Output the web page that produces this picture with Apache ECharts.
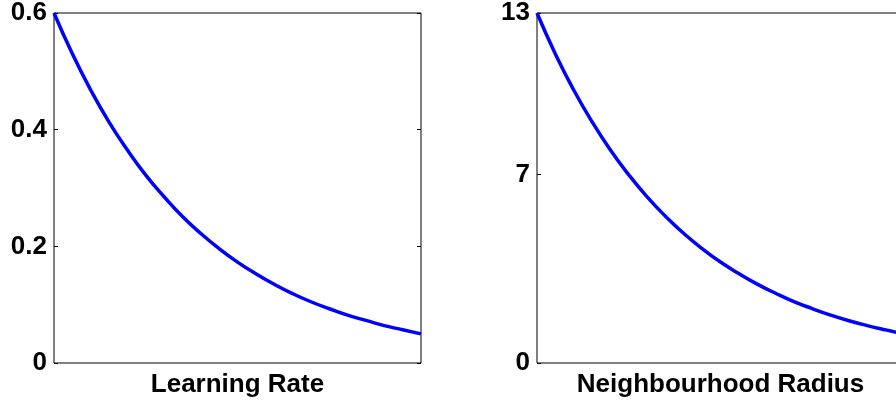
<!DOCTYPE html>
<html>
<head>
<meta charset="utf-8">
<script src="https://cdn.jsdelivr.net/npm/echarts@6/dist/echarts.min.js"></script>
<style>html,body{margin:0;padding:0;background:#fff}#c{width:896px;height:403px}</style>
</head>
<body>
<div id="c"></div>
<script>
// Sample positions along the horizontal (fraction of the run)
var steps = ['0','0.05','0.1','0.15','0.2','0.25','0.3','0.35','0.4','0.45','0.5','0.55','0.6','0.65','0.7','0.75','0.8','0.85','0.9','0.95','1'];
// Learning rate values
var learningRate = [0.600,0.530,0.468,0.413,0.365,0.322,0.285,0.251,0.222,0.196,0.173,0.153,0.135,0.119,0.105,0.093,0.082,0.073,0.064,0.057,0.050];
// Neighbourhood radius values
var neighbourhoodRadius = [13.0,11.48,10.14,8.96,7.91,6.99,6.17,5.45,4.81,4.25,3.75,3.32,2.93,2.59,2.28,2.02,1.78,1.57,1.39,1.23,1.08];
var leftTicks = [0, 0.2, 0.4, 0.6];
var rightTicks = [0, 7, 13];
var titles = ['Learning Rate', 'Neighbourhood Radius'];

var font = 'Liberation Sans, Arial, sans-serif';
var chart = echarts.init(document.getElementById('c'), null, {renderer: 'canvas'});

function yAxes(gi, min, max, ticks) {
  var base = {
    type: 'value', gridIndex: gi, min: min, max: max,
    splitLine: {show: false},
    axisLine: {show: false}
  };
  var left = Object.assign({}, base, {
    position: 'left',
    axisTick: {show: true, inside: true, length: 4, lineStyle: {color: '#000', width: 1}, customValues: ticks},
    axisLabel: {show: true, color: '#000', fontFamily: font, fontWeight: 'bold', fontSize: 26, margin: 7,
      padding: [7, 0, 0, 0], customValues: ticks,
      formatter: function (v) { return String(v); }}
  });
  var right = Object.assign({}, base, {
    position: 'right',
    axisTick: {show: true, inside: true, length: 4, lineStyle: {color: '#000', width: 1}, customValues: ticks},
    axisLabel: {show: false}
  });
  return [left, right];
}

var ya = yAxes(0, 0, 0.6, leftTicks).concat(yAxes(1, 0, 13, rightTicks));

var option = {
  animation: false,
  backgroundColor: '#fff',
  grid: [
    {left: 54, top: 13, width: 367, height: 350, outerBoundsMode: 'none', containLabel: false, show: true, borderColor: '#000', borderWidth: 1, backgroundColor: 'transparent'},
    {left: 537, top: 13, width: 367, height: 350, outerBoundsMode: 'none', containLabel: false, show: true, borderColor: '#000', borderWidth: 1, backgroundColor: 'transparent'}
  ],
  xAxis: [0, 1].map(function (gi) {
    return {
      type: 'category', gridIndex: gi, data: steps, boundaryGap: false,
      axisLine: {show: false}, axisTick: {show: false}, axisLabel: {show: false},
      splitLine: {show: false},
      name: titles[gi], nameLocation: 'middle', nameGap: 9,
      nameTextStyle: {color: '#000', fontFamily: font, fontWeight: 'bold', fontSize: 26}
    };
  }),
  yAxis: ya,
  series: [
    {type: 'line', xAxisIndex: 0, yAxisIndex: 0, data: learningRate, smooth: true, showSymbol: false,
      lineStyle: {color: '#0000ff', width: 3.5}},
    {type: 'line', xAxisIndex: 1, yAxisIndex: 2, data: neighbourhoodRadius, smooth: true, showSymbol: false,
      lineStyle: {color: '#0000ff', width: 3.5}}
  ]
};
chart.setOption(option);
</script>
</body>
</html>
